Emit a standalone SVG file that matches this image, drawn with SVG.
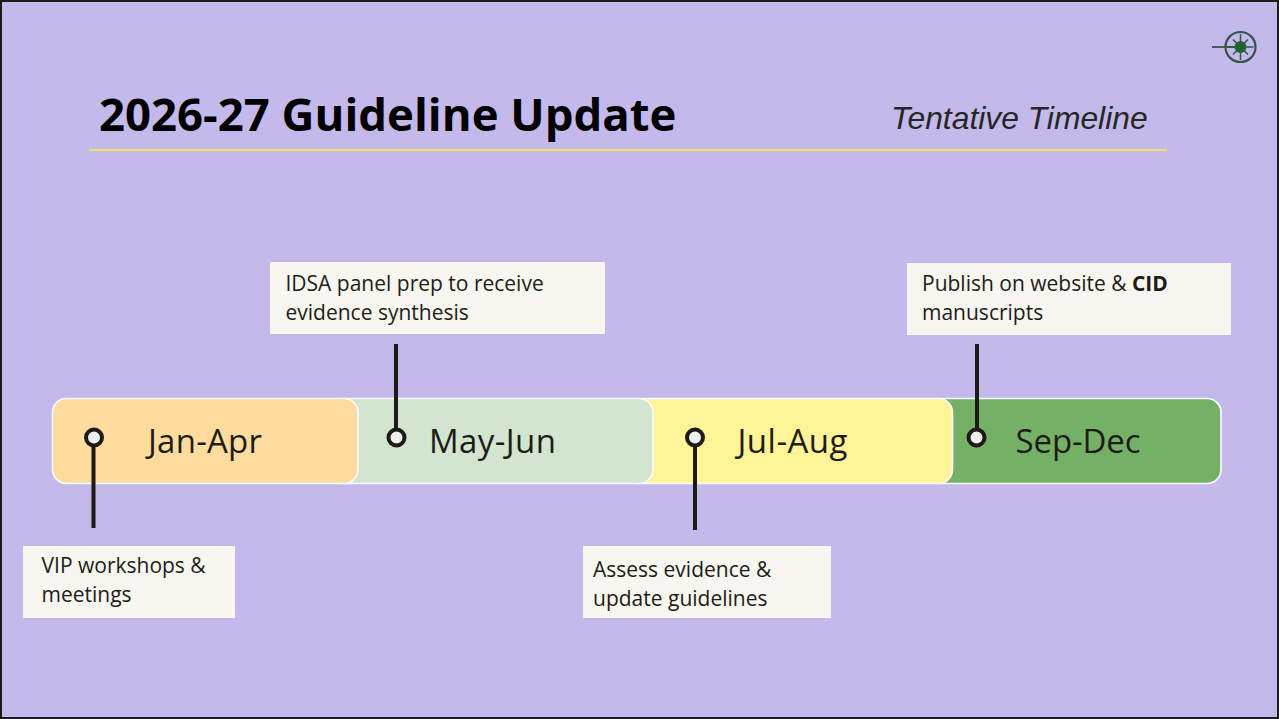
<svg xmlns="http://www.w3.org/2000/svg" width="1279" height="719" viewBox="0 0 1279 719">
<style>
.seg{stroke:#fbfbfd;stroke-width:1.6}
.lbl{font-family:"Open Sans","Noto Sans",sans-serif;font-size:33px;fill:#1f1c18}
.box{fill:#f7f6f1}
.txt{font-family:"Open Sans","Noto Sans",sans-serif;font-size:21px;fill:#1f1c18}
.ln{stroke:#1f1a17;stroke-width:4;fill:none}
.dot{fill:#eeeeec;stroke:#1f1a17;stroke-width:4}
</style>
<rect x="1" y="1" width="1277" height="717" fill="#c3baeb" stroke="#1a1a1a" stroke-width="2"/>
<g id="logo" fill="none" stroke="#35524b">
<line x1="1212" y1="47" x2="1240" y2="47" stroke-width="1.8"/>
<circle cx="1240.500" cy="47" r="15" stroke-width="2.200"/>
<path d="M1240.500 34V60M1227.500 47H1253.500M1233 39.500L1248 54.500M1248 39.500L1233 54.500" stroke-width="1.500"/>
<circle cx="1240.500" cy="47" r="6" fill="#22632f" stroke="none"/>
</g>
<g id="title">
<text x="99" y="131" font-family="'Open Sans','Noto Sans',sans-serif" font-weight="700" font-size="45.500px" fill="#000">2026-27 Guideline Update</text>
<text x="891" y="129" font-family="'Liberation Sans',Arial,sans-serif" font-style="italic" font-size="31.800px" fill="#262626">Tentative Timeline</text>
<line x1="89" y1="150" x2="1167" y2="150" stroke="#f5e06a" stroke-width="2"/>
</g>
<g id="seg-sep-dec">
<rect class="seg" x="925" y="398.500" width="296" height="85" rx="14" fill="#74b066"/>
<text class="lbl" x="1015.500" y="453" textLength="125">Sep-Dec</text>
</g>
<g id="seg-jul-aug">
<rect class="seg" x="625" y="398.500" width="327.500" height="85" rx="14" fill="#fff498"/>
<text class="lbl" x="737.500" y="453" textLength="110">Jul-Aug</text>
</g>
<g id="seg-may-jun">
<rect class="seg" x="330" y="398.500" width="323" height="85" rx="14" fill="#d2e5ce"/>
<text class="lbl" x="429" y="453" textLength="127">May-Jun</text>
</g>
<g id="seg-jan-apr">
<rect class="seg" x="52.500" y="398.500" width="305.500" height="85" rx="14" fill="#fddc9e"/>
<text class="lbl" x="148" y="453" textLength="114">Jan-Apr</text>
</g>
<g id="connectors">
<line class="ln" x1="93.500" y1="447" x2="93.500" y2="528"/>
<line class="ln" x1="396" y1="344" x2="396" y2="428"/>
<line class="ln" x1="695" y1="447" x2="695" y2="530"/>
<line class="ln" x1="977" y1="344" x2="977" y2="428"/>
</g>
<g id="dot-1"><circle class="dot" cx="94" cy="437.500" r="8"/></g>
<g id="dot-2"><circle class="dot" cx="396.500" cy="437.500" r="8"/></g>
<g id="dot-3"><circle class="dot" cx="695" cy="437.500" r="8"/></g>
<g id="dot-4"><circle class="dot" cx="976.500" cy="437.500" r="8"/></g>
<g id="note-vip">
<rect class="box" x="23" y="546" width="212" height="72"/>
<text class="txt" x="41.500" y="573">VIP workshops &amp;</text>
<text class="txt" x="41.500" y="602">meetings</text>
</g>
<g id="note-idsa">
<rect class="box" x="270" y="262" width="335" height="72"/>
<text class="txt" x="285.500" y="291">IDSA panel prep to receive</text>
<text class="txt" x="285.500" y="320">evidence synthesis</text>
</g>
<g id="note-assess">
<rect class="box" x="583" y="546" width="248" height="72"/>
<text class="txt" x="593" y="577">Assess evidence &amp;</text>
<text class="txt" x="593" y="606">update guidelines</text>
</g>
<g id="note-publish">
<rect class="box" x="907" y="263" width="324" height="72"/>
<text class="txt" x="922" y="291">Publish on website &amp; <tspan font-weight="700">CID</tspan></text>
<text class="txt" x="922" y="320">manuscripts</text>
</g>
</svg>
